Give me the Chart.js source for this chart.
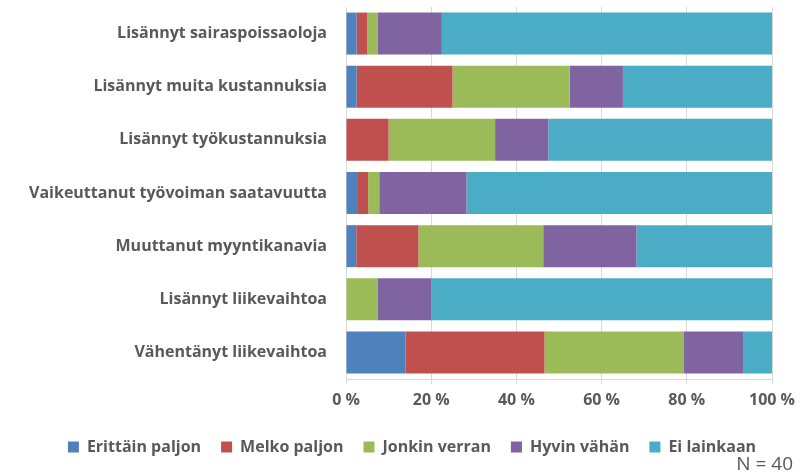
<!DOCTYPE html>
<html>
<head>
<meta charset="utf-8">
<script src="https://cdn.jsdelivr.net/npm/chart.js@4/dist/chart.umd.min.js"></script>
<style>
  html, body { margin: 0; padding: 0; background: #fff; }
  #wrap { width: 800px; height: 472px; }
</style>
</head>
<body>
<div id="wrap"><canvas id="chart1"></canvas></div>
<script>
// categories, top to bottom
let categories = ['Lisännyt sairaspoissaoloja', 'Lisännyt muita kustannuksia', 'Lisännyt työkustannuksia',
  'Vaikeuttanut työvoiman saatavuutta', 'Muuttanut myyntikanavia', 'Lisännyt liikevaihtoa', 'Vähentänyt liikevaihtoa']

// shares in %
let erittainPaljon = [2.5, 2.5, 0, 2.6, 2.4, 0, 14.0]
let melkoPaljon    = [2.5, 22.5, 10, 2.6, 14.6, 0, 32.6]
let jonkinVerran   = [2.5, 27.5, 25, 2.6, 29.3, 7.5, 32.6]
let hyvinVahan     = [15, 12.5, 12.5, 20.5, 21.9, 12.5, 14.0]
let eiLainkaan     = [77.5, 35, 52.5, 71.7, 31.8, 80, 6.8]

let xTicks = [0, 20, 40, 60, 80, 100]
let note = 'N = 40'

let labelFont = { family: 'Open Sans', size: 16, weight: 'bold' }
let grey = '#595959'

// "N = 40" in the bottom right corner, legend nudged right like in the original
const notePlugin = {
  id: 'note',
  afterLayout(chart) {
    chart.legend.left += 26
    chart.legend.right += 26
  },
  afterDraw(chart) {
    let c = chart.ctx
    c.save()
    c.font = '19px "Open Sans"'
    c.fillStyle = grey
    c.textAlign = 'right'
    c.textBaseline = 'middle'
    c.fillText(note, 793, 465)
    c.restore()
  }
}

let ctx1 = document.getElementById('chart1').getContext('2d')
new Chart(ctx1, {
  type: 'bar',
  data: {
    labels: categories,
    datasets: [
      { label: 'Erittäin paljon', data: erittainPaljon, backgroundColor: '#4F81BD' },
      { label: 'Melko paljon', data: melkoPaljon, backgroundColor: '#C0504D' },
      { label: 'Jonkin verran', data: jonkinVerran, backgroundColor: '#9BBB59' },
      { label: 'Hyvin vähän', data: hyvinVahan, backgroundColor: '#8064A2' },
      { label: 'Ei lainkaan', data: eiLainkaan, backgroundColor: '#4BACC6' }
    ]
  },
  options: {
    indexAxis: 'y',
    responsive: true,
    maintainAspectRatio: false,
    animation: false,
    barPercentage: 0.79,
    categoryPercentage: 1,
    layout: { padding: { top: 7, right: 28, bottom: 7, left: 0 } },
    scales: {
      x: {
        stacked: true,
        min: 0,
        max: 100,
        afterBuildTicks(scale) { scale.ticks = xTicks.map(v => ({ value: v })) },
        afterFit(scale) { scale.height = 40; scale.paddingLeft = 0; scale.paddingRight = 0 },
        grid: { color: '#d9d9d9', tickLength: 5, tickColor: '#d9d9d9' },
        border: { color: '#d9d9d9' },
        ticks: { color: grey, font: labelFont, padding: 7, maxRotation: 0, callback: v => v + ' %' }
      },
      y: {
        stacked: true,
        afterFit(scale) { scale.width = 346; scale.paddingTop = 0; scale.paddingBottom = 0 },
        grid: { display: false },
        border: { display: true, color: '#d9d9d9' },
        ticks: { color: grey, font: labelFont, padding: 11 }
      }
    },
    plugins: {
      legend: {
        position: 'bottom',
        labels: { boxWidth: 11, boxHeight: 11, color: grey, font: labelFont, padding: 20 }
      },
      tooltip: { enabled: false }
    }
  },
  plugins: [notePlugin]
})
</script>
</body>
</html>
